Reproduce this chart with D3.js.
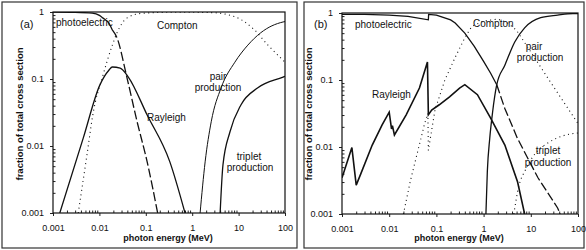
<!DOCTYPE html>
<html>
<head>
<meta charset="utf-8">
<script src="https://cdn.jsdelivr.net/npm/d3@7"></script>
<style>
  body { margin: 0; background: #fff; }
  text { font-family: "Liberation Sans", Arial, sans-serif; fill: #111; }
</style>
</head>
<body>
<svg id="chart" width="586" height="250"></svg>
<script>
// axis ticks
const xTicks = [0.001, 0.01, 0.1, 1, 10, 100]
const xTickLabels = ['0.001', '0.01', '0.1', '1', '10', '100']
const yTicks = [0.001, 0.01, 0.1, 1]
const yTickLabels = ['0.001', '0.01', '0.1', '1']

// panel (a): energies (MeV) and fraction of total cross section
const aPhotoE = [0.001, 0.003, 0.007, 0.01, 0.012, 0.016, 0.019, 0.024, 0.039, 0.065, 0.107, 0.18]
const aPhotoF = [1.0, 0.99, 0.96, 0.89, 0.81, 0.68, 0.54, 0.41, 0.107, 0.023, 0.0058, 0.001]
const aComptonE = [0.0035, 0.0054, 0.0072, 0.012, 0.019, 0.024, 0.039, 0.076, 0.3, 1, 2.6, 8.3, 22, 43, 91, 100]
const aComptonF = [0.001, 0.0074, 0.029, 0.115, 0.32, 0.49, 0.81, 0.95, 0.99, 0.99, 0.98, 0.85, 0.54, 0.32, 0.19, 0.178]
const aRayleighE = [0.0014, 0.0045, 0.0102, 0.016, 0.019, 0.028, 0.042, 0.107, 0.33, 0.70]
const aRayleighF = [0.001, 0.0132, 0.081, 0.135, 0.151, 0.145, 0.107, 0.029, 0.0058, 0.001]
const aPairE = [1.48, 1.9, 2.57, 4.2, 8.3, 15.8, 30, 91, 100]
const aPairF = [0.001, 0.0058, 0.023, 0.074, 0.178, 0.32, 0.49, 0.71, 0.72]
const aTripletE = [4.0, 4.6, 6.5, 11.2, 26, 91, 100]
const aTripletF = [0.001, 0.0052, 0.0162, 0.041, 0.074, 0.107, 0.11]

// panel (b)
const bPhotoE = [0.001, 0.003, 0.01, 0.025, 0.0676, 0.0684, 0.1, 0.2, 0.25, 0.4, 0.63, 1.0, 1.41, 1.9, 2.8, 5.2, 14.1, 37, 42]
const bPhotoF = [0.955, 0.955, 0.93, 0.89, 0.79, 0.955, 0.93, 0.79, 0.71, 0.5, 0.32, 0.19, 0.126, 0.085, 0.038, 0.0135, 0.0035, 0.00123, 0.001]
const bComptonE = [0.02, 0.0282, 0.0372, 0.0479, 0.0562, 0.066, 0.0676, 0.0794, 0.0933, 0.151, 0.251, 0.407, 0.562, 1, 2, 3.16, 5, 10, 22.9, 43.7, 100]
const bComptonF = [0.001, 0.00316, 0.0069, 0.0141, 0.0224, 0.0316, 0.0089, 0.0178, 0.0355, 0.1, 0.219, 0.437, 0.63, 0.76, 0.81, 0.72, 0.55, 0.263, 0.107, 0.0537, 0.0224]
const bRayleighE = [0.001, 0.00162, 0.002, 0.00251, 0.00437, 0.00708, 0.01, 0.0112, 0.0117, 0.0129, 0.0229, 0.0437, 0.0646, 0.0676, 0.0794, 0.115, 0.19, 0.31, 0.4, 0.74, 1.41, 2.82, 5.25, 7.4]
const bRayleighF = [0.00347, 0.0098, 0.0027, 0.004, 0.0107, 0.0214, 0.0331, 0.0186, 0.0209, 0.0151, 0.0302, 0.0759, 0.186, 0.0302, 0.0355, 0.0427, 0.0562, 0.0759, 0.0851, 0.0603, 0.0269, 0.0107, 0.003, 0.001]
const bPairE = [1.12, 1.2, 1.35, 1.55, 1.9, 2.82, 4.57, 7.4, 16.2, 37, 78, 100]
const bPairF = [0.001, 0.0043, 0.0135, 0.033, 0.085, 0.166, 0.37, 0.6, 0.85, 0.93, 0.98, 0.98]
const bTripletE = [4.37, 5.5, 7.76, 12.6, 24, 55, 100]
const bTripletF = [0.001, 0.0025, 0.0046, 0.0081, 0.0117, 0.0151, 0.0162]

const svg = d3.select('#chart')

// pairs up two arrays into points
function pts (es, fs) {
  return es.map((e, i) => [e, fs[i]])
}

const panels = [
  {
    id: 'a',
    box: [2, 2, 295, 246],
    x: [53, 285],
    y: [213, 12],
    tag: '(a)',
    tagX: 20,
    curves: [
      { data: pts(aPhotoE, aPhotoF), dashFrom: 0.019, style: 'solid', dashStyle: 'long' },
      { data: pts(aComptonE, aComptonF), style: 'dot' },
      { data: pts(aRayleighE, aRayleighF), style: 'solid' },
      { data: pts(aPairE, aPairF), style: 'solid', width: 1 },
      { data: pts(aTripletE, aTripletF), style: 'solid' }
    ],
    labels: [
      { t: 'photoelectric', x: 56, y: 26 },
      { t: 'Compton', x: 157, y: 29 },
      { t: 'Rayleigh', x: 147, y: 121 },
      { t: 'pair', x: 218, y: 80, mid: true },
      { t: 'production', x: 218, y: 91, mid: true },
      { t: 'triplet', x: 249, y: 160, mid: true },
      { t: 'production', x: 250, y: 171, mid: true }
    ]
  },
  {
    id: 'b',
    box: [304, 2, 280, 246],
    x: [342, 578],
    y: [214, 13],
    tag: '(b)',
    tagX: 314,
    curves: [
      { data: pts(bPhotoE, bPhotoF), dashFrom: 1.9, style: 'solid', dashStyle: 'long', sharp: true },
      { data: pts(bComptonE, bComptonF), style: 'dot', sharp: true },
      { data: pts(bRayleighE, bRayleighF), style: 'solid', width: 1.6, sharp: true },
      { data: pts(bPairE, bPairF), style: 'solid' },
      { data: pts(bTripletE, bTripletF), style: 'dot' }
    ],
    labels: [
      { t: 'photoelectric', x: 355, y: 28 },
      { t: 'Rayleigh', x: 372, y: 98 },
      { t: 'Compton', x: 473, y: 27 },
      { t: 'pair', x: 534, y: 50, mid: true },
      { t: 'production', x: 540, y: 61, mid: true },
      { t: 'triplet', x: 548, y: 154, mid: true },
      { t: 'production', x: 548, y: 166, mid: true }
    ]
  }
]

const dashes = { solid: null, dot: '1,3.5', long: '9,3' }

panels.forEach(p => {
  const g = svg.append('g')
  const x = d3.scaleLog().domain([0.001, 100]).range(p.x)
  const y = d3.scaleLog().domain([0.001, 1]).range(p.y)

  // outer panel border
  g.append('rect')
    .attr('x', p.box[0]).attr('y', p.box[1])
    .attr('width', p.box[2]).attr('height', p.box[3])
    .attr('fill', 'none').attr('stroke', '#333').attr('stroke-width', 1.2)

  g.append('clipPath').attr('id', 'clip-' + p.id)
    .append('rect')
    .attr('x', p.x[0]).attr('y', p.y[1])
    .attr('width', p.x[1] - p.x[0]).attr('height', p.y[0] - p.y[1])

  // minor ticks for each decade
  const xMinor = []
  xTicks.slice(0, -1).forEach(d => { for (let k = 2; k < 10; k++) xMinor.push(d * k) })
  const yMinor = []
  yTicks.slice(0, -1).forEach(d => { for (let k = 2; k < 10; k++) yMinor.push(d * k) })

  const xAxis = g.append('g').attr('transform', `translate(0,${p.y[0]})`)
    .call(d3.axisBottom(x).tickValues(xTicks).tickFormat((d, i) => xTickLabels[i]).tickSize(3).tickPadding(9))
  const xMin = g.append('g').attr('transform', `translate(0,${p.y[0]})`)
    .call(d3.axisBottom(x).tickValues(xMinor).tickFormat('').tickSize(-2.5))
  const yAxis = g.append('g').attr('transform', `translate(${p.x[0]},0)`)
    .call(d3.axisLeft(y).tickValues(yTicks).tickFormat((d, i) => yTickLabels[i]).tickSize(3).tickPadding(6))
  const yMin = g.append('g').attr('transform', `translate(${p.x[0]},0)`)
    .call(d3.axisLeft(y).tickValues(yMinor).tickFormat('').tickSize(-2.5))

  ;[xAxis, xMin, yAxis, yMin].forEach(a => {
    a.select('.domain').remove()
    a.selectAll('line').attr('stroke', '#222')
    a.selectAll('text').attr('font-size', 9).attr('font-family', '"Liberation Sans", Arial, sans-serif').attr('fill', '#111')
  })

  // plot frame
  g.append('rect')
    .attr('x', p.x[0]).attr('y', p.y[1])
    .attr('width', p.x[1] - p.x[0]).attr('height', p.y[0] - p.y[1])
    .attr('fill', 'none').attr('stroke', '#111').attr('stroke-width', 1.2)

  const smooth = d3.line().x(d => x(d[0])).y(d => y(d[1])).curve(d3.curveMonotoneX)
  const sharp = d3.line().x(d => x(d[0])).y(d => y(d[1]))
  const lineG = g.append('g').attr('clip-path', `url(#clip-${p.id})`)

  p.curves.forEach(c => {
    const line = c.sharp ? sharp : smooth
    const parts = []
    if (c.dashFrom) {
      parts.push({ d: c.data.filter(d => d[0] <= c.dashFrom), s: c.style })
      parts.push({ d: c.data.filter(d => d[0] >= c.dashFrom), s: c.dashStyle })
    } else {
      parts.push({ d: c.data, s: c.style })
    }
    parts.forEach(part => {
      lineG.append('path')
        .attr('d', line(part.d))
        .attr('fill', 'none')
        .attr('stroke', '#111')
        .attr('stroke-width', part.s === 'dot' ? 1.1 : (c.width || 1.3))
        .attr('stroke-dasharray', dashes[part.s])
    })
  })

  p.labels.forEach(l => {
    g.append('text')
      .attr('x', l.x).attr('y', l.y)
      .attr('text-anchor', l.mid ? 'middle' : 'start')
      .attr('font-size', 10)
      .text(l.t)
  })

  g.append('text').attr('x', p.tagX).attr('y', 28).attr('font-size', 11).text(p.tag)

  g.append('text')
    .attr('x', (p.x[0] + p.x[1]) / 2 - 1).attr('y', 241)
    .attr('text-anchor', 'middle').attr('font-size', 9).attr('font-weight', 'bold')
    .text('photon energy (MeV)')

  g.append('text')
    .attr('transform', `translate(${p.x[0] - 30},114) rotate(-90)`)
    .attr('text-anchor', 'middle').attr('font-size', 9.5).attr('font-weight', 'bold')
    .text('fraction of total cross section')
})
</script>
</body>
</html>
